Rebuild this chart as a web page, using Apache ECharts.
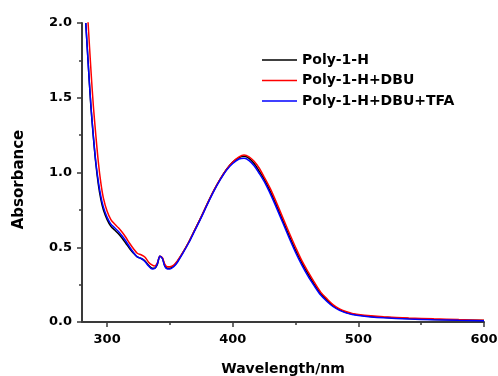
<!DOCTYPE html>
<html>
<head>
<meta charset="utf-8">
<script src="https://cdn.jsdelivr.net/npm/echarts@6/dist/echarts.min.js"></script>
<style>
  html, body { margin: 0; padding: 0; background: #fff; }
  #chart { width: 498px; height: 376px; }
</style>
</head>
<body>
<div id="chart"></div>
<script>
const wavelengths = [283, 285, 287, 289, 291, 293, 295, 297,
  300, 303, 306, 309, 312, 315, 318, 321, 324, 327,
  330, 333, 336, 338, 340, 342, 344, 346, 348, 350,
  353, 356, 360, 365, 370, 375, 380, 385, 390, 395,
  400, 405, 409, 413, 417, 421, 425, 430, 435, 440,
  445, 450, 455, 460, 465, 470, 475, 480, 485, 490,
  495, 500, 510, 520, 540, 560, 580, 600];

const poly1H = [2.00, 1.72, 1.45, 1.24, 1.06, 0.92, 0.82, 0.75,
  0.685, 0.64, 0.615, 0.59, 0.56, 0.525, 0.49, 0.46, 0.435, 0.425,
  0.41, 0.38, 0.36, 0.36, 0.385, 0.44, 0.425, 0.375, 0.36, 0.36,
  0.375, 0.405, 0.46, 0.535, 0.62, 0.705, 0.795, 0.88, 0.955, 1.02,
  1.07, 1.10, 1.108, 1.095, 1.06, 1.01, 0.955, 0.87, 0.775, 0.675,
  0.575, 0.48, 0.395, 0.32, 0.25, 0.19, 0.145, 0.108, 0.083, 0.065,
  0.053, 0.046, 0.037, 0.031, 0.023, 0.017, 0.013, 0.010];

const poly1HDBU = [2.25, 1.98, 1.70, 1.45, 1.25, 1.07, 0.93, 0.83,
  0.74, 0.685, 0.655, 0.63, 0.60, 0.565, 0.525, 0.49, 0.46, 0.45,
  0.435, 0.40, 0.38, 0.375, 0.395, 0.44, 0.43, 0.385, 0.37, 0.37,
  0.38, 0.41, 0.46, 0.535, 0.62, 0.705, 0.795, 0.88, 0.955, 1.02,
  1.07, 1.105, 1.117, 1.105, 1.075, 1.03, 0.97, 0.89, 0.795, 0.695,
  0.595, 0.50, 0.41, 0.335, 0.265, 0.20, 0.155, 0.115, 0.088, 0.07,
  0.057, 0.05, 0.041, 0.035, 0.027, 0.021, 0.016, 0.012];

const poly1HDBUTFA = [2.00, 1.72, 1.46, 1.25, 1.07, 0.94, 0.84, 0.77,
  0.70, 0.655, 0.63, 0.605, 0.575, 0.54, 0.50, 0.465, 0.435, 0.425,
  0.405, 0.375, 0.355, 0.36, 0.39, 0.44, 0.425, 0.37, 0.355, 0.355,
  0.37, 0.40, 0.455, 0.53, 0.615, 0.70, 0.79, 0.875, 0.95, 1.015,
  1.06, 1.09, 1.095, 1.08, 1.045, 0.995, 0.94, 0.855, 0.76, 0.66,
  0.56, 0.465, 0.38, 0.305, 0.24, 0.18, 0.137, 0.102, 0.078, 0.061,
  0.05, 0.043, 0.034, 0.028, 0.02, 0.015, 0.011, 0.008];

const seriesNames = ["Poly-1-H", "Poly-1-H+DBU", "Poly-1-H+DBU+TFA"];
const seriesColors = ["#000000", "#ff0000", "#0000ff"];
const xMajorTicks = [300, 400, 500, 600];
const xMinorTicks = [350, 450, 550];

const font = "'DejaVu Sans', sans-serif";
const axisColor = "#3a3a3a";

const chart = echarts.init(document.getElementById("chart"), null, { renderer: "canvas" });

const toPairs = (ys) => wavelengths.map((w, i) => [w, ys[i]]);

const option = {
  animation: false,
  backgroundColor: "#ffffff",
  grid: { left: 82, right: 14, top: 23, bottom: 54, containLabel: false, outerBoundsMode: "none" },
  legend: {
    data: seriesNames,
    orient: "vertical",
    left: 257,
    top: 48,
    icon: "rect",
    itemWidth: 35,
    itemHeight: 1.5,
    itemGap: 6.5,
    textStyle: { fontFamily: font, fontWeight: "bold", fontSize: 14, color: "#000", lineHeight: 14 },
  },
  xAxis: [
    {
      type: "value",
      min: 280,
      max: 600,
      name: "Wavelength/nm",
      nameLocation: "middle",
      nameGap: 40,
      nameTextStyle: { fontFamily: font, fontWeight: "bold", fontSize: 14, color: "#000" },
      axisLine: { show: true, lineStyle: { color: axisColor, width: 2 } },
      axisTick: { show: true, customValues: xMajorTicks, length: 5, lineStyle: { color: axisColor, width: 1.5 } },
      axisLabel: {
        customValues: xMajorTicks,
        margin: 11,
        fontFamily: font, fontWeight: "bold", fontSize: 13, color: "#000",
      },
      splitLine: { show: false },
    },
    {
      type: "value",
      min: 280,
      max: 600,
      position: "bottom",
      axisLine: { show: false },
      axisTick: { show: true, customValues: xMinorTicks, length: 3, lineStyle: { color: axisColor, width: 1.5 } },
      axisLabel: { show: false },
      splitLine: { show: false },
    },
  ],
  yAxis: {
    type: "value",
    min: 0,
    max: 2,
    interval: 0.5,
    name: "Absorbance",
    nameLocation: "middle",
    nameGap: 55,
    nameTextStyle: { fontFamily: font, fontWeight: "bold", fontSize: 15, color: "#000", padding: [0, 14, 0, 0] },
    axisLine: { show: true, lineStyle: { color: axisColor, width: 2 } },
    axisTick: { show: true, length: 5, lineStyle: { color: axisColor, width: 1.5 } },
    minorTick: { show: true, splitNumber: 2, length: 3, lineStyle: { color: axisColor, width: 1.5 } },
    axisLabel: {
      margin: 10,
      formatter: (v) => v.toFixed(1),
      fontFamily: font, fontWeight: "bold", fontSize: 13, color: "#000",
    },
    splitLine: { show: false },
  },
  series: [poly1H, poly1HDBU, poly1HDBUTFA].map((ys, i) => ({
    name: seriesNames[i],
    type: "line",
    xAxisIndex: 0,
    data: toPairs(ys),
    showSymbol: false,
    smooth: 0.3,
    clip: true,
    lineStyle: { color: seriesColors[i], width: 1.5 },
    itemStyle: { color: seriesColors[i] },
  })),
};

chart.setOption(option);
</script>
</body>
</html>
